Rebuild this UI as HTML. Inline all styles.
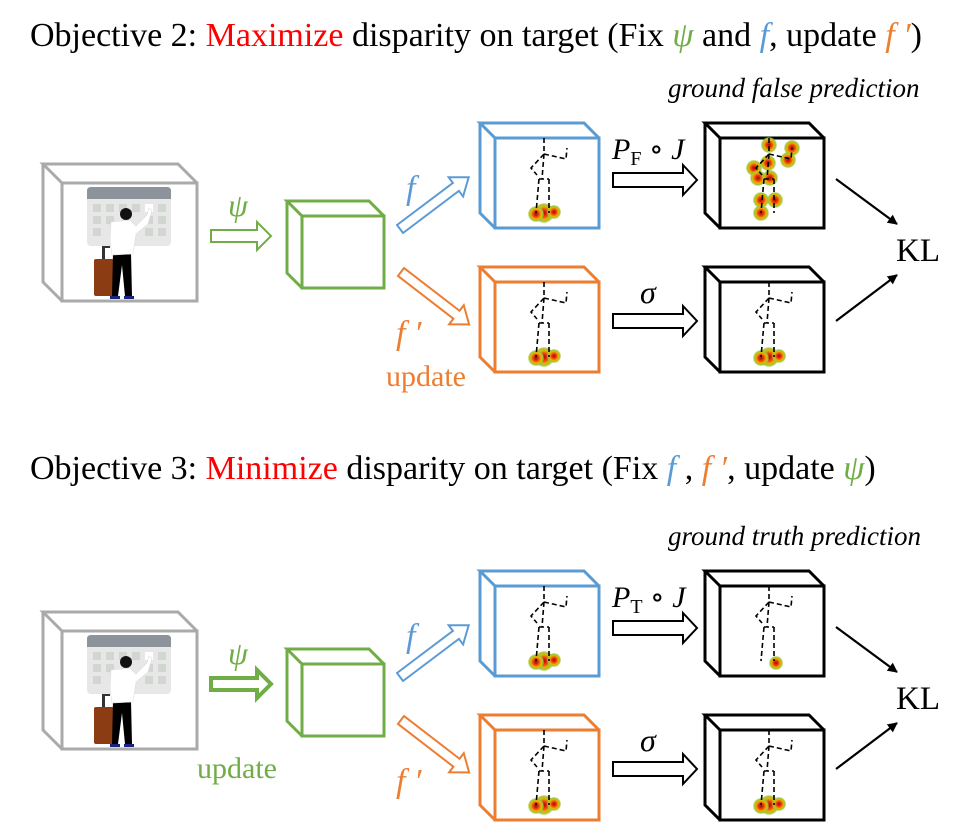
<!DOCTYPE html>
<html><head><meta charset="utf-8"><style>
html,body{margin:0;padding:0;background:#fff}
svg{display:block}
text{font-family:"Liberation Serif","DejaVu Serif",serif}
</style></head><body>
<svg width="978" height="839" viewBox="0 0 978 839" xmlns="http://www.w3.org/2000/svg">
<defs>
<radialGradient id="hm">
<stop offset="0" stop-color="#b00000"/><stop offset="0.35" stop-color="#e84010"/><stop offset="0.65" stop-color="#f0b000"/><stop offset="0.85" stop-color="#9cc83a"/><stop offset="1" stop-color="#9cc83a" stop-opacity="0.3"/>
</radialGradient>
<g id="skel" fill="none" stroke="#000" stroke-width="1.6" stroke-dasharray="5,3">
<path d="M49,0 L49,16 L71,21 L72,10" stroke="#000"/><path d="M49,16 L36,30 L42,37" stroke="#000"/><path d="M49,16 L47,41" stroke="#000"/><path d="M44,41 L54,41" stroke="#000"/><path d="M44,41 L41,75" stroke="#000"/><path d="M54,41 L54,75" stroke="#000"/>
</g>
<g id="feet" stroke="none"><circle cx="49" cy="75" r="10" fill="url(#hm)" stroke="none"/><circle cx="41" cy="76" r="8" fill="url(#hm)" stroke="none"/><circle cx="59" cy="74" r="7" fill="url(#hm)" stroke="none"/></g>
<g id="input">
<path d="M62,183 L43,164 L178,164 L197,183 M43,164 L43,282 L62,301" fill="none" stroke="#aaa" stroke-width="3"/>
<rect x="62" y="183" width="135" height="118" fill="none" stroke="#aaa" stroke-width="3"/>
<rect x="87" y="187" width="84" height="59" rx="4" fill="#e6e7e6"/>
<path d="M87,199 L87,191 Q87,187 91,187 L167,187 Q171,187 171,191 L171,199 Z" fill="#8c939b"/>
<g fill="#d2d6d1">
<rect x="93" y="204" width="8" height="8"/><rect x="106" y="204" width="8" height="8"/><rect x="119" y="204" width="8" height="8"/><rect x="132" y="204" width="8" height="8"/><rect x="158" y="204" width="8" height="8"/>
<rect x="93" y="216" width="8" height="8"/><rect x="106" y="216" width="8" height="8"/><rect x="145" y="216" width="8" height="8"/><rect x="158" y="216" width="8" height="8"/>
<rect x="93" y="228" width="8" height="8"/><rect x="145" y="228" width="8" height="8"/><rect x="158" y="228" width="8" height="8"/>
</g>
<rect x="145" y="204" width="8" height="8" fill="#fff"/>
<rect x="102" y="246" width="3" height="13" fill="#333"/><rect x="102" y="246" width="8" height="2" fill="#333"/>
<rect x="94" y="259" width="20" height="37" rx="2" fill="#8b3c12"/>
<path d="M113,253 L131,253 L132,296 L125,296 L122,265 L118,296 L112,296 Z" fill="#000"/>
<path d="M111,222 L130,220 L136,226 L147,215 L149,208 L152,210 L148,224 L136,234 L133,254 L112,255 L110,240 Z" fill="#fff" stroke="#ddd" stroke-width="0.6"/>
<circle cx="126" cy="214" r="6" fill="#111"/>
<path d="M110,296 L120,296 L120,299 L110,299 Z M124,296 L134,296 L134,299 L124,299 Z" fill="#1a237e"/>
</g>
<g id="gbox" fill="none" stroke="#70ad47" stroke-width="3">
<path d="M302,216 L287,201 L369,201 L384,216 M287,201 L287,273 L302,288"/>
<rect x="302" y="216" width="82" height="72"/>
</g>
<g id="bbox"><path d="M0,0 L-15,-15 L89,-15 L104,0 M-15,-15 L-15,75 L0,90" fill="none" stroke-width="3"/><rect x="0" y="0" width="104" height="90" fill="none" stroke-width="3"/></g>
<path id="harr" d="M0,-7 L70,-7 L70,-15 L84,0 L70,15 L70,7 L0,7 Z" fill="#fff" stroke="#000" stroke-width="2"/>
<path id="darr" d="M0,-5 L70,-5 L70,-12 L86,0 L70,12 L70,5 L0,5 Z" fill="#fff" stroke-width="2"/>
<path id="parr" d="M0,-6 L46,-6 L46,-14 L60,0 L46,14 L46,6 L0,6 Z" fill="#fff" stroke="#70ad47"/>
<marker id="ah" markerWidth="10" markerHeight="10" refX="9" refY="5" orient="auto" markerUnits="userSpaceOnUse"><path d="M0,0 L10,5 L0,10 Z" fill="#000"/></marker>
</defs>

<!-- Objective 2 -->
<text x="30" y="46" font-size="34">Objective 2: <tspan fill="#ff0000">Maximize</tspan> disparity on target (Fix <tspan fill="#70ad47" font-style="italic">ψ</tspan> and <tspan fill="#5b9bd5" font-style="italic">f</tspan>, update <tspan fill="#ed7d31" font-style="italic">f ′</tspan>)</text>
<text x="668" y="97" font-size="27" font-style="italic">ground false prediction</text>
<use href="#input"/>
<use href="#parr" x="211" y="236" stroke-width="2"/>
<text x="228" y="216" font-size="32" fill="#70ad47" font-style="italic">ψ</text>
<use href="#gbox"/>
<g transform="translate(400,229) rotate(-37)"><use href="#darr" stroke="#5b9bd5"/></g>
<g transform="translate(401,272) rotate(37.6)"><use href="#darr" stroke="#ed7d31" stroke-width="4"/></g>
<text x="406" y="199" font-size="34" fill="#5b9bd5" font-style="italic">f</text>
<text x="396" y="344" font-size="34" fill="#ed7d31" font-style="italic">f ′</text>
<text x="386" y="386" font-size="30" fill="#ed7d31">update</text>
<g transform="translate(495,138)" stroke="#5b9bd5"><use href="#bbox"/><use href="#feet"/><use href="#skel"/></g>
<g transform="translate(495,282)" stroke="#ed7d31"><use href="#bbox"/><use href="#feet"/><use href="#skel"/></g>
<g transform="translate(720,138)" stroke="#000"><use href="#bbox"/>
<g fill="url(#hm)" stroke="none"><circle cx="49" cy="7" r="8"/><circle cx="48" cy="25" r="8"/><circle cx="72" cy="10" r="8"/><circle cx="68" cy="22" r="8"/><circle cx="34" cy="30" r="8"/><circle cx="38" cy="40" r="8"/><circle cx="50" cy="40" r="8"/><circle cx="41" cy="62" r="8"/><circle cx="55" cy="62" r="8"/><circle cx="41" cy="75" r="8"/></g>
<use href="#skel"/></g>
<g transform="translate(720,282)" stroke="#000"><use href="#bbox"/><use href="#feet"/><use href="#skel"/></g>
<use href="#harr" x="613" y="180"/>
<use href="#harr" x="613" y="321"/>
<text x="612" y="159" font-size="30" font-style="italic">P<tspan font-size="20" font-style="normal" dy="6">F</tspan><tspan dy="-6"> ∘ J</tspan></text>
<text x="640" y="303" font-size="32" font-style="italic">σ</text>
<line x1="836" y1="179" x2="897" y2="224" stroke="#000" stroke-width="2.2" marker-end="url(#ah)"/>
<line x1="836" y1="321" x2="897" y2="275" stroke="#000" stroke-width="2.2" marker-end="url(#ah)"/>
<text x="896" y="261" font-size="33">KL</text>

<!-- Objective 3 -->
<text x="30" y="479" font-size="34">Objective 3: <tspan fill="#ff0000">Minimize</tspan> disparity on target (Fix <tspan fill="#5b9bd5" font-style="italic">f</tspan> , <tspan fill="#ed7d31" font-style="italic">f ′</tspan>, update <tspan fill="#70ad47" font-style="italic">ψ</tspan>)</text>
<text x="668" y="545" font-size="27" font-style="italic">ground truth prediction</text>
<g transform="translate(0,448)">
<use href="#input"/>
<use href="#parr" x="211" y="236" stroke-width="4"/>
<text x="228" y="216" font-size="32" fill="#70ad47" font-style="italic">ψ</text>
<text x="197" y="330" font-size="30" fill="#70ad47">update</text>
<use href="#gbox"/>
<g transform="translate(400,229) rotate(-37)"><use href="#darr" stroke="#5b9bd5"/></g>
<g transform="translate(401,272) rotate(37.6)"><use href="#darr" stroke="#ed7d31"/></g>
<text x="406" y="199" font-size="34" fill="#5b9bd5" font-style="italic">f</text>
<text x="396" y="344" font-size="34" fill="#ed7d31" font-style="italic">f ′</text>
<g transform="translate(495,138)" stroke="#5b9bd5"><use href="#bbox"/><use href="#feet"/><use href="#skel"/></g>
<g transform="translate(495,282)" stroke="#ed7d31"><use href="#bbox"/><use href="#feet"/><use href="#skel"/></g>
<g transform="translate(720,138)" stroke="#000"><use href="#bbox"/><circle cx="56" cy="77" r="7" fill="url(#hm)" stroke="none"/><use href="#skel"/></g>
<g transform="translate(720,282)" stroke="#000"><use href="#bbox"/><use href="#feet"/><use href="#skel"/></g>
<use href="#harr" x="613" y="180"/>
<use href="#harr" x="613" y="321"/>
<text x="612" y="159" font-size="30" font-style="italic">P<tspan font-size="20" font-style="normal" dy="6">T</tspan><tspan dy="-6"> ∘ J</tspan></text>
<text x="640" y="303" font-size="32" font-style="italic">σ</text>
<line x1="836" y1="179" x2="897" y2="224" stroke="#000" stroke-width="2.2" marker-end="url(#ah)"/>
<line x1="836" y1="321" x2="897" y2="275" stroke="#000" stroke-width="2.2" marker-end="url(#ah)"/>
<text x="896" y="261" font-size="33">KL</text>
</g>
</svg>
</body></html>
